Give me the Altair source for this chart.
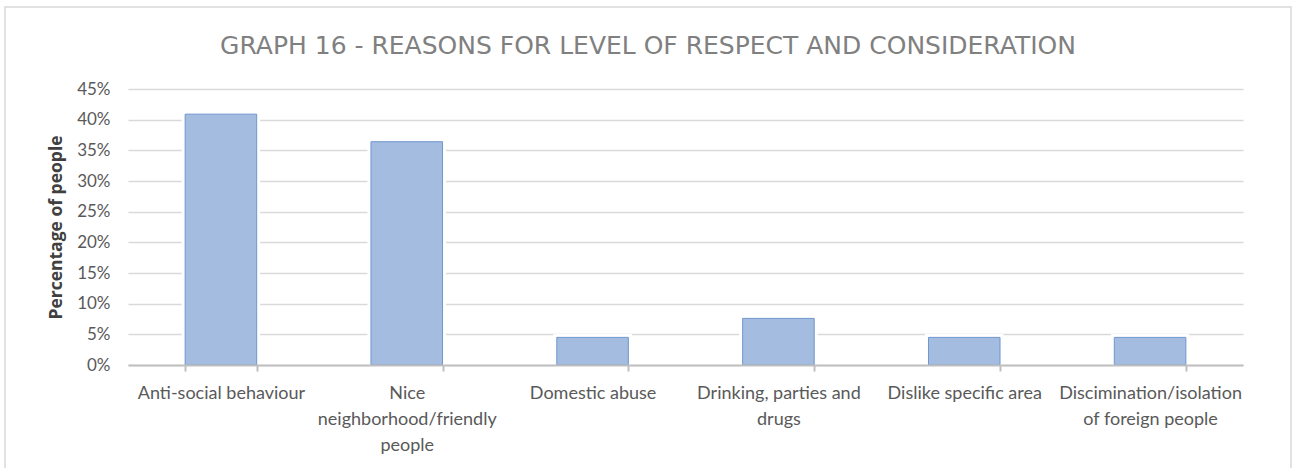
import altair as alt
import pandas as pd

title_text = "GRAPH 16 - REASONS FOR LEVEL OF RESPECT AND CONSIDERATION"
categories = [
    "Anti-social behaviour",
    "Nice neighborhood/friendly people",
    "Domestic abuse",
    "Drinking, parties and drugs",
    "Dislike specific area",
    "Discimination/isolation of foreign people",
]
label_lines = [
    ["Anti-social behaviour"],
    ["Nice", "neighborhood/friendly", "people"],
    ["Domestic abuse"],
    ["Drinking, parties and", "drugs"],
    ["Dislike specific area"],
    ["Discimination/isolation", "of foreign people"],
]
values = [0.409, 0.364, 0.045, 0.076, 0.045, 0.045]
y_ticks = [0, 0.05, 0.10, 0.15, 0.20, 0.25, 0.30, 0.35, 0.40, 0.45]

df = pd.DataFrame({"category": categories, "value": values})

expr = "datum.label"
for c, lines in reversed(list(zip(categories, label_lines))):
    arr = "[" + ",".join("'" + l + "'" for l in lines) + "]"
    expr = f"datum.label == '{c}' ? {arr} : ({expr})"

W, H = 1115, 276
PAD_L, PAD_T = 128, 89

x_enc = alt.X(
    "category:N",
    sort=categories,
    scale=alt.Scale(paddingInner=0.615, paddingOuter=0.3075),
    axis=alt.Axis(
        title=None,
        labelAngle=0,
        labelExpr=expr,
        labelFont="Lato",
        labelFontSize=18,
        labelColor="#595959",
        labelPadding=13,
        labelLineHeight=26,
        labelLimit=260,
        domainColor="#bfbfbf",
        domainWidth=2,
        tickColor="#bfbfbf",
        tickWidth=2,
        tickSize=6,
        tickBand="extent",
        grid=False,
        zindex=1,
    ),
)
y_enc = alt.Y(
    "value:Q",
    scale=alt.Scale(domain=[0, 0.45], nice=False),
    axis=alt.Axis(
        title="Percentage of people",
        titleFont="Open Sans",
        titleFontWeight="bold",
        titleFontSize=17.5,
        titleColor="#404040",
        titlePadding=11,
        values=y_ticks,
        format=".0%",
        labelFont="Lato",
        labelFontSize=17,
        labelColor="#595959",
        labelPadding=18,
        domain=False,
        ticks=False,
        gridColor="#d9d9d9",
        gridWidth=1.5,
    ),
)

base = alt.Chart(df)
gap = base.mark_bar(fill="white", stroke="white", strokeWidth=7).encode(x=x_enc, y=y_enc)
bars = base.mark_bar(fill="#a3bce0", stroke="#6f96cf", strokeWidth=1).encode(x=x_enc, y=y_enc)

single = alt.Data(values=[{"t": title_text}])
frame = alt.Chart(single).mark_rect(
    fill=None, stroke="#d9d9d9", strokeWidth=1.5
).encode(
    x=alt.value(5 - PAD_L),
    x2=alt.value(1291 - PAD_L),
    y=alt.value(7 - PAD_T),
    y2=alt.value(480 - PAD_T),
)
title = alt.Chart(single).mark_text(
    font="DejaVu Sans", fontSize=25, color="#808080", align="center", baseline="middle"
).encode(
    text="t:N",
    x=alt.value(648 - PAD_L),
    y=alt.value(46 - PAD_T),
)

chart = alt.layer(frame, gap, bars, title).properties(
    width=W,
    height=H,
    autosize=alt.AutoSizeParams(type="none"),
    padding={"left": PAD_L, "top": PAD_T, "right": 1293 - PAD_L - W, "bottom": 468 - PAD_T - H},
).configure_view(stroke=None)

chart.save("out.html", embed_options={"renderer": "svg", "actions": False})
